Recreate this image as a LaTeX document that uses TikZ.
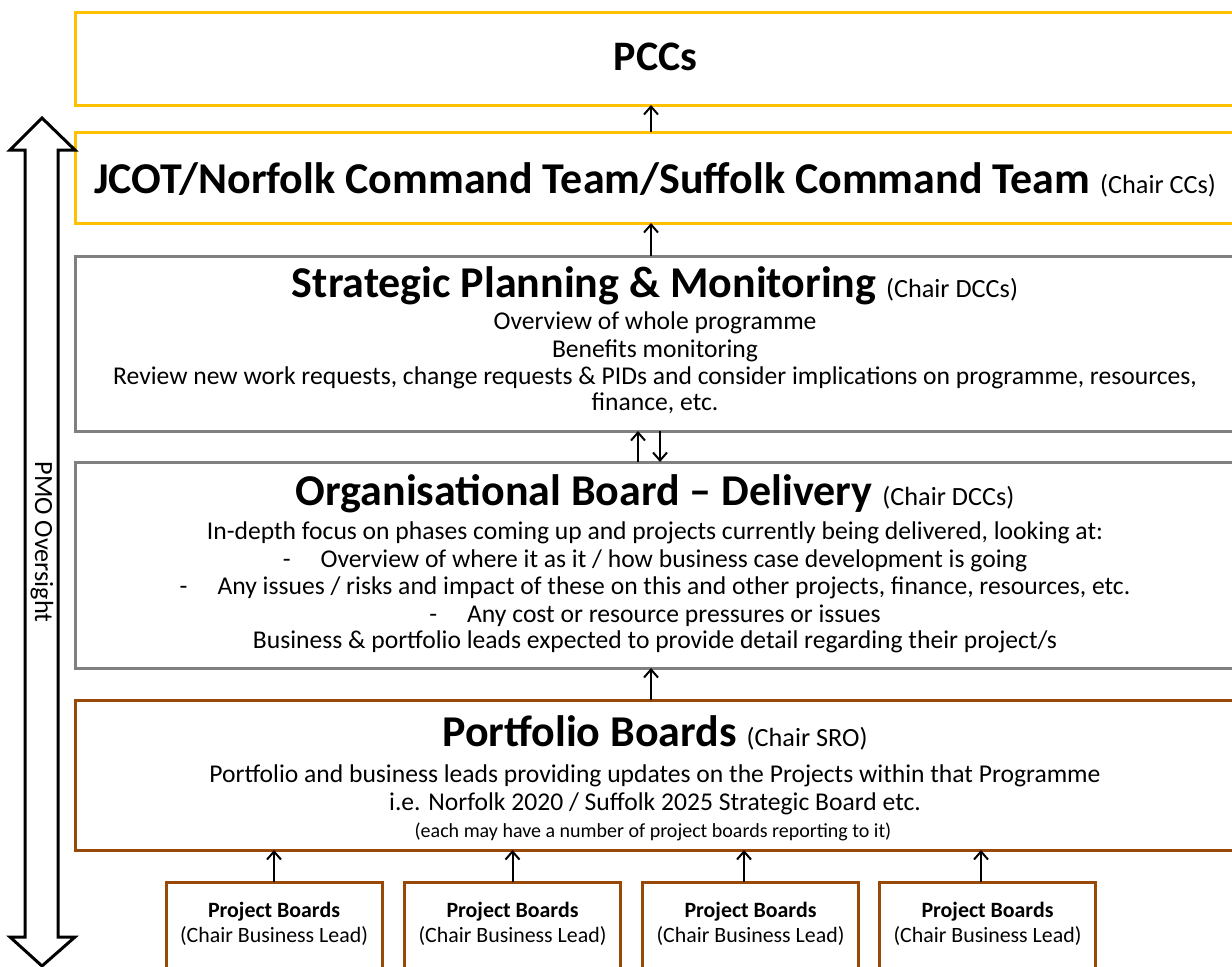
\documentclass[tikz,border=0pt]{standalone}
\usepackage{fontspec}
\setmainfont{Carlito}
\usetikzlibrary{arrows.meta}
\definecolor{ylw}{HTML}{FFC000}
\definecolor{gry}{HTML}{808080}
\definecolor{brn}{HTML}{984807}
\newcommand\chairfnt{\fontsize{19.7}{23}\selectfont\mdseries}
\tikzset{
  box/.style={draw, line width=2.25pt, rectangle, outer sep=0pt, inner sep=0pt, minimum width=870.75pt},
  pbox/.style={draw=brn, line width=2.25pt, rectangle, outer sep=0pt, inner sep=0pt, minimum width=162pt, minimum height=70.5pt},
  conn/.style={line width=1.5pt, -{Straight Barb[length=6pt,width=10.5pt,line width=1.5pt]}},
  txt/.style={inner sep=0pt, anchor=base},
  ttl/.style={txt, font=\fontsize{33}{38}\selectfont\bfseries},
  body/.style={txt, font=\fontsize{19.2}{23}\selectfont},
  pbt/.style={txt, font=\fontsize{16.4}{20}\selectfont},
}
\begin{document}
\begin{tikzpicture}[x=0.75pt,y=-0.75pt]
\useasboundingbox (0,0) rectangle (1232,967);
\clip (0,0) rectangle (1232,967);
% boxes
\node[box, draw=ylw, minimum height=69.75pt] (pcc) at (655.5,58.5) {};
\node[box, draw=ylw, minimum height=68.25pt] (jcot) at (655.5,177.5) {};
\node[box, draw=gry, minimum height=131.25pt] (strat) at (655.5,343.5) {};
\node[box, draw=gry, minimum height=154.5pt] (org) at (655.5,565) {};
\node[box, draw=brn, minimum height=112.5pt] (port) at (655.5,775) {};
\node[pbox] (pb1) at (274,929) {};
\node[pbox] (pb2) at (512.5,929) {};
\node[pbox] (pb3) at (750.5,929) {};
\node[pbox] (pb4) at (987.5,929) {};
% texts
\node[ttl, font=\fontsize{31.5}{36}\selectfont\bfseries] (tpcc) at (655.5,70) {PCCs};
\node[ttl] (tjcot) at (655,193) {JCOT/Norfolk Command Team/Suffolk Command Team {\chairfnt(Chair CCs)}};
\node[ttl] (tstrat) at (655,297) {Strategic Planning \& Monitoring {\chairfnt(Chair DCCs)}};
\node[body] (s1) at (655,329) {Overview of whole programme};
\node[body] (s2) at (655,357) {Benefits monitoring};
\node[body] (s3) at (655,384) {Review new work requests, change requests \& PIDs and consider implications on programme, resources,};
\node[body] (s4) at (655,410) {finance, etc.};
\node[ttl] (torg) at (655,505) {Organisational Board -- Delivery {\chairfnt(Chair DCCs)}};
\node[body] (o1) at (655,539) {In-depth focus on phases coming up and projects currently being delivered, looking at:};
\node[body] (o2) at (655,567) {-\hspace{22.5pt}Overview of where it as it / how business case development is going};
\node[body] (o3) at (655,594) {-\hspace{22.5pt}Any issues / risks and impact of these on this and other projects, finance, resources, etc.};
\node[body] (o4) at (655,622) {-\hspace{22.5pt}Any cost or resource pressures or issues};
\node[body] (o5) at (655,648) {Business \& portfolio leads expected to provide detail regarding their project/s};
\node[ttl] (tport) at (655,746) {Portfolio Boards {\chairfnt(Chair SRO)}};
\node[body] (p1) at (655,782) {Portfolio and business leads providing updates on the Projects within that Programme};
\node[body] (p2) at (655,810) {i.e. Norfolk 2020 / Suffolk 2025 Strategic Board etc.};
\node[txt, font=\fontsize{15}{18}\selectfont] (p3) at (653,837) {(each may have a number of project boards reporting to it)};
\foreach \i in {1,2,3,4}{
  \node[pbt] (pa\i) at ([yshift=-26.25pt]pb\i.north) {\bfseries Project Boards};
  \node[pbt] (pc\i) at ([yshift=-45pt]pb\i.north) {(Chair Business Lead)};
}
% connectors
\draw[conn] ([xshift=-3.375pt]jcot.north) -- ([xshift=-3.375pt]pcc.south);
\draw[conn] ([xshift=-3.375pt]strat.north) -- ([xshift=-3.375pt]jcot.south);
\draw[conn] ([xshift=-13.125pt]org.north) -- ([xshift=-13.125pt]strat.south);
\draw[conn] ([xshift=3.375pt]strat.south) -- ([xshift=3.375pt]org.north);
\draw[conn] ([xshift=-3.375pt]port.north) -- ([xshift=-3.375pt]org.south);
\draw[conn] (pb1.north) -- (pb1.north |- port.south);
\draw[conn] (pb2.north) -- (pb2.north |- port.south);
\draw[conn] ([xshift=-4.875pt]pb3.north) -- ([xshift=-4.875pt]pb3.north |- port.south);
\draw[conn] ([xshift=-4.875pt]pb4.north) -- ([xshift=-4.875pt]pb4.north |- port.south);
% PMO oversight double arrow
\draw[line width=2.25pt, line join=miter, fill=white] (42,118) -- (75,150) -- (58,150) -- (58,937) -- (75,937) -- (42,966) -- (10,937) -- (25,937) -- (25,150) -- (10,150) -- cycle;
\node[inner sep=0pt, rotate=-90, font=\fontsize{19.7}{23}\selectfont] (pmo) at (42,542) {PMO Oversight};
\end{tikzpicture}
\end{document}
